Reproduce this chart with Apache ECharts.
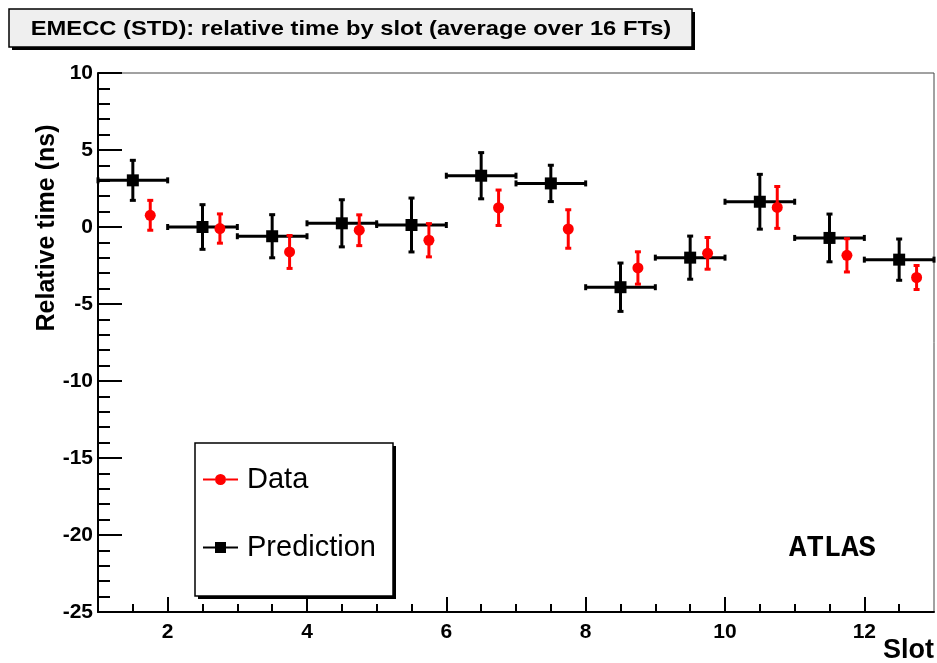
<!DOCTYPE html>
<html><head><meta charset="utf-8">
<script src="https://cdn.jsdelivr.net/npm/echarts@6/dist/echarts.min.js"></script>
<style>html,body{margin:0;padding:0;background:#fff}#c{width:937px;height:663px}</style>
</head><body><div id="c"></div>
<script>
// ---- data ----
const titleText = 'EMECC (STD): relative time by slot (average over 16 FTs)';
const xLabel = 'Slot';
const yLabel = 'Relative time (ns)';
const xMajorTicks = [2, 4, 6, 8, 10, 12];
const xMinorTicks = [1.5, 2.5, 3, 3.5, 4.5, 5, 5.5, 6.5, 7, 7.5, 8.5, 9, 9.5, 10.5, 11, 11.5, 12.5];
const predSlots = [1.5, 2.5, 3.5, 4.5, 5.5, 6.5, 7.5, 8.5, 9.5, 10.5, 11.5, 12.5];
const predVals  = [3.03, 0.0, -0.6, 0.24, 0.13, 3.33, 2.83, -3.91, -1.99, 1.64, -0.71, -2.12];
const predErr   = [1.3, 1.45, 1.4, 1.53, 1.75, 1.5, 1.18, 1.57, 1.4, 1.78, 1.55, 1.34];
const predXErr  = [0.5, 0.5, 0.5, 0.5, 0.5, 0.5, 0.5, 0.5, 0.5, 0.5, 0.5, 0.5];
const dataSlots = [1.75, 2.75, 3.75, 4.75, 5.75, 6.75, 7.75, 8.75, 9.75, 10.75, 11.75, 12.75];
const dataVals  = [0.76, -0.1, -1.62, -0.21, -0.86, 1.25, -0.13, -2.66, -1.71, 1.27, -1.84, -3.28];
const dataErr   = [0.97, 0.95, 1.07, 1.0, 1.08, 1.15, 1.25, 1.05, 1.03, 1.36, 1.08, 0.78];

const predPts = predSlots.map((s, i) => [s, predVals[i], predErr[i], predXErr[i]]);
const dataPts = dataSlots.map((s, i) => [s, dataVals[i], dataErr[i], 0]);

const F = 'Liberation Sans, Arial, Helvetica, sans-serif';

function errRender(color, cap) {
  return function (params, api) {
    const x = api.value(0), y = api.value(1), e = api.value(2), xe = api.value(3);
    const c = api.coord([x, y]);
    const t = api.coord([x, y + e]);
    const b = api.coord([x, y - e]);
    const st = { stroke: color, lineWidth: 3 };
    const ch = [
      { type: 'line', shape: { x1: c[0], y1: t[1], x2: c[0], y2: b[1] }, style: st },
      { type: 'line', shape: { x1: c[0] - cap, y1: t[1], x2: c[0] + cap, y2: t[1] }, style: st },
      { type: 'line', shape: { x1: c[0] - cap, y1: b[1], x2: c[0] + cap, y2: b[1] }, style: st }
    ];
    if (xe) {
      const l = api.coord([x - xe, y]);
      const r = api.coord([x + xe, y]);
      ch.push({ type: 'line', shape: { x1: l[0], y1: c[1], x2: r[0], y2: c[1] }, style: st });
      ch.push({ type: 'line', shape: { x1: l[0], y1: c[1] - cap, x2: l[0], y2: c[1] + cap }, style: st });
      ch.push({ type: 'line', shape: { x1: r[0], y1: c[1] - cap, x2: r[0], y2: c[1] + cap }, style: st });
    }
    return { type: 'group', children: ch };
  };
}

const dataIcon = 'path://M0,5H12V7H0Z M23,5H35V7H23Z M12,6A5.5,5.5 0 1,1 23,6A5.5,5.5 0 1,1 12,6Z';
const predIcon = 'path://M0,5H12V7H0Z M23,5H35V7H23Z M12,0.5H23V11.5H12Z';

const chart = echarts.init(document.getElementById('c'), null, { renderer: 'canvas' });
chart.setOption({
  animation: false,
  backgroundColor: '#fff',
  grid: { left: 98, top: 73, right: 3, bottom: 51, show: true, borderColor: '#444', borderWidth: 1, containLabel: false },
  xAxis: [{
    type: 'value', min: 1, max: 13,
    axisLine: { onZero: false, lineStyle: { color: '#000', width: 2 } },
    axisTick: { inside: true, length: 15, customValues: xMajorTicks, lineStyle: { color: '#000', width: 2 } },
    axisLabel: { customValues: xMajorTicks, margin: 10, color: '#000', fontFamily: F, fontSize: 21, fontWeight: 'bold' },
    splitLine: { show: false }
  }, {
    type: 'value', min: 1, max: 13, position: 'bottom',
    axisLine: { show: false, onZero: false },
    axisTick: { inside: true, length: 8, customValues: xMinorTicks, lineStyle: { color: '#000', width: 2 } },
    axisLabel: { show: false },
    splitLine: { show: false }
  }],
  yAxis: {
    type: 'value', min: -25, max: 10, interval: 5,
    axisLine: { show: true, onZero: false, lineStyle: { color: '#000', width: 2 } },
    axisTick: { show: true, inside: true, length: 24, lineStyle: { color: '#000', width: 2 } },
    minorTick: { show: true, splitNumber: 5, length: 12, lineStyle: { color: '#000', width: 2 } },
    axisLabel: { margin: 5, color: '#000', fontFamily: F, fontSize: 21, fontWeight: 'bold' },
    splitLine: { show: false }
  },
  legend: {
    data: [{ name: 'Data', icon: dataIcon }, { name: 'Prediction', icon: predIcon }],
    orient: 'vertical', left: 195, top: 443, z: 20,
    itemWidth: 35, itemHeight: 12, itemGap: 39,
    padding: [22, 16, 30, 8],
    backgroundColor: 'transparent', borderWidth: 0,
    textStyle: { fontFamily: F, fontSize: 29, color: '#000', padding: [0, 0, 0, 4] },
    selectedMode: false
  },
  graphic: [
    // title box
    { type: 'rect', z: 10, shape: { x: 12, y: 12, width: 683, height: 38 }, style: { fill: '#000' } },
    { type: 'rect', z: 11, shape: { x: 9, y: 9, width: 683, height: 38 }, style: { fill: '#efefef', stroke: '#000', lineWidth: 1.5 } },
    { type: 'text', z: 12, x: 351, y: 29, scaleX: 1.13, scaleY: 1,
      style: { text: titleText, align: 'center', verticalAlign: 'middle', font: 'bold 21px ' + F, fill: '#000' } },
    // legend box
    { type: 'rect', z: 10, shape: { x: 198, y: 446, width: 198, height: 153 }, style: { fill: '#000' } },
    { type: 'rect', z: 11, shape: { x: 195, y: 443, width: 198, height: 153 }, style: { fill: '#fff', stroke: '#000', lineWidth: 1.5 } },
    // axis titles and label
    { type: 'text', x: 47, y: 228, rotation: Math.PI / 2,
      style: { text: yLabel, align: 'center', verticalAlign: 'middle', font: 'bold 25px ' + F, fill: '#000' } },
    { type: 'text', x: 934, y: 651,
      style: { text: xLabel, align: 'right', verticalAlign: 'middle', font: 'bold 27px ' + F, fill: '#000' } },
    { type: 'text', x: 789, y: 549,
      style: { text: 'ATLAS', align: 'left', verticalAlign: 'middle', font: 'bold 29px "Liberation Mono", "Courier New", monospace', fill: '#000' } }
  ],
  series: [
    { type: 'custom', name: 'PredErr', xAxisIndex: 0, renderItem: errRender('#000', 3), data: predPts, z: 2 },
    { type: 'custom', name: 'DataErr', xAxisIndex: 0, renderItem: errRender('#f00', 3), data: dataPts, z: 2 },
    { type: 'scatter', name: 'Prediction', xAxisIndex: 0, symbol: 'rect', symbolSize: 12,
      itemStyle: { color: '#000', opacity: 1 }, data: predPts.map(p => [p[0], p[1]]), z: 3 },
    { type: 'scatter', name: 'Data', xAxisIndex: 0, symbol: 'circle', symbolSize: 11,
      itemStyle: { color: '#f00', opacity: 1 }, data: dataPts.map(p => [p[0], p[1]]), z: 3 }
  ]
});
</script>
</body></html>
